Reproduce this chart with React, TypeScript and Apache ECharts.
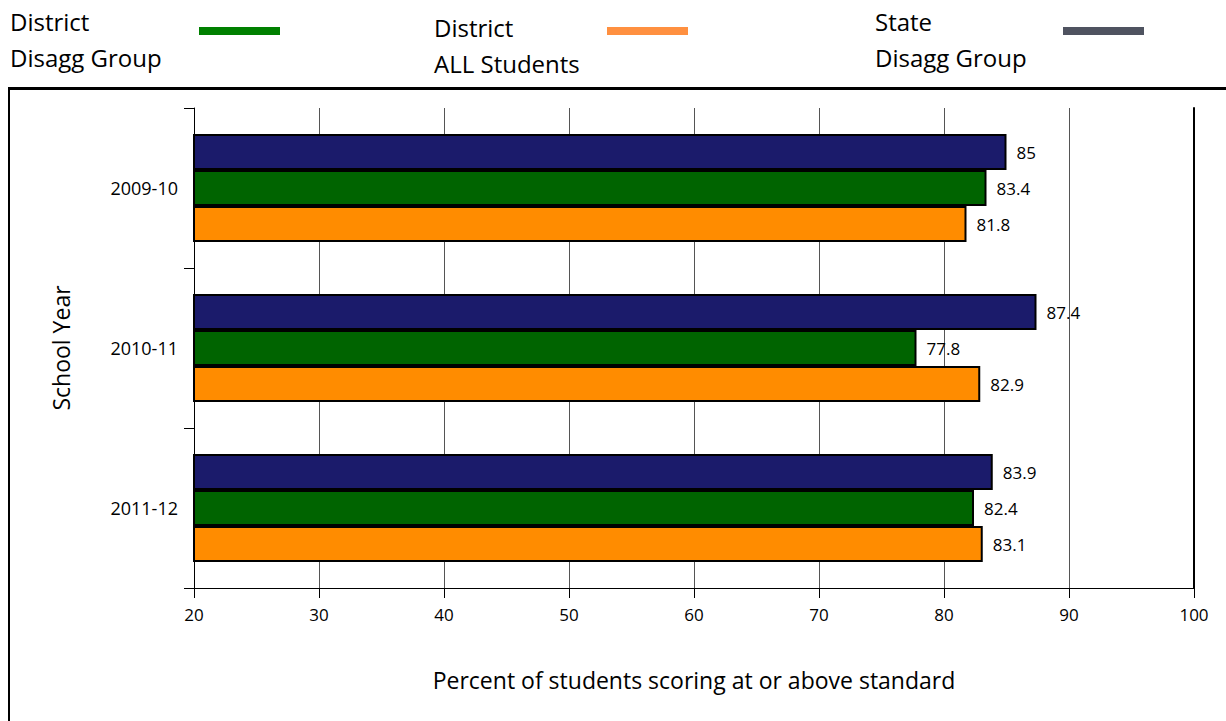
import React, { useEffect, useRef } from "react";
import * as echarts from "echarts";

const categories = ["2009-10", "2010-11", "2011-12"];
const stateDisagg = [85, 87.4, 83.9];
const districtDisagg = [83.4, 77.8, 82.4];
const districtAll = [81.8, 82.9, 83.1];
const xTicks = [20, 30, 40, 50, 60, 70, 80, 90, 100];

const FONT = "'Open Sans', 'Noto Sans', sans-serif";

export default function App() {
  const ref = useRef<HTMLDivElement>(null);
  useEffect(() => {
    if (!ref.current) return;
    const chart = echarts.init(ref.current, null, { renderer: "svg" });
    const label = {
      show: true,
      position: "right" as const,
      distance: 10,
      color: "#000",
      fontSize: 17,
      fontFamily: FONT,
    };
    const mk = (name: string, data: number[], color: string) => ({
      name,
      type: "bar" as const,
      data,
      barGap: "0%",
      barCategoryGap: "32.5%",
      itemStyle: { color, borderColor: "#000", borderWidth: 2 },
      label,
    });
    const legendItems = [
      { lines: ["District", "Disagg Group"], x: 10, y1: 21, y2: 57, lx: 199, color: "#008000" },
      { lines: ["District", "ALL Students"], x: 434, y1: 27, y2: 63, lx: 607, color: "#FF9040" },
      { lines: ["State", "Disagg Group"], x: 875, y1: 21, y2: 57, lx: 1063, color: "#4F5360" },
    ];
    const graphics: any[] = [];
    legendItems.forEach((it) => {
      graphics.push({
        type: "text",
        x: it.x,
        y: it.y1,
        style: { text: it.lines[0], fontSize: 24, fontFamily: FONT, fill: "#000", textVerticalAlign: "middle" },
      });
      graphics.push({
        type: "text",
        x: it.x,
        y: it.y2,
        style: { text: it.lines[1], fontSize: 24, fontFamily: FONT, fill: "#000", textVerticalAlign: "middle" },
      });
      graphics.push({
        type: "rect",
        shape: { x: it.lx, y: 27, width: 81, height: 8 },
        style: { fill: it.color },
      });
    });
    graphics.push({
      type: "line",
      shape: { x1: 8, y1: 88.5, x2: 1226, y2: 88.5 },
      style: { stroke: "#000", lineWidth: 3 },
    });
    graphics.push({
      type: "line",
      shape: { x1: 9, y1: 87, x2: 9, y2: 721 },
      style: { stroke: "#000", lineWidth: 2 },
    });

    chart.setOption({
      animation: false,
      grid: { left: 194, right: 32, top: 108, bottom: 133, containLabel: false },
      xAxis: {
        type: "value",
        min: 20,
        max: 100,
        interval: 10,
        name: "Percent of students scoring at or above standard",
        nameLocation: "middle",
        nameGap: 80,
        nameTextStyle: { fontSize: 23, fontFamily: FONT, color: "#000" },
        axisLine: { show: true, lineStyle: { color: "#000", width: 1 } },
        axisTick: { show: true, length: 10, lineStyle: { color: "#000" } },
        axisLabel: {
          fontSize: 17,
          fontFamily: FONT,
          color: "#000",
          margin: 18,
          formatter: (v: number) => (xTicks.includes(v) ? String(v) : ""),
        },
        splitLine: { show: true, lineStyle: { color: "#555", width: 1 } },
      },
      yAxis: [
        {
          type: "category",
          data: categories,
          inverse: true,
          name: "School Year",
          nameLocation: "middle",
          nameRotate: 90,
          nameGap: 122,
          nameTextStyle: { fontSize: 23, fontFamily: FONT, color: "#000" },
          axisLine: { show: true, lineStyle: { color: "#000", width: 1 } },
          axisTick: { show: true, length: 10, lineStyle: { color: "#000" } },
          axisLabel: { fontSize: 18, fontFamily: FONT, color: "#000", margin: 16 },
        },
        {
          type: "category",
          data: categories,
          inverse: true,
          position: "right",
          axisLine: { show: true, lineStyle: { color: "#000", width: 2 } },
          axisTick: { show: false },
          axisLabel: { show: false },
        },
      ],
      series: [
        mk("State Disagg Group", stateDisagg, "#1B1B6B"),
        mk("District Disagg Group", districtDisagg, "#006400"),
        mk("District ALL Students", districtAll, "#FF8C00"),
      ],
      graphic: graphics,
    });
    return () => chart.dispose();
  }, []);
  return (
    <div
      ref={ref}
      style={{ position: "fixed", left: 0, top: 0, width: 1226, height: 721, background: "#fff" }}
    />
  );
}
